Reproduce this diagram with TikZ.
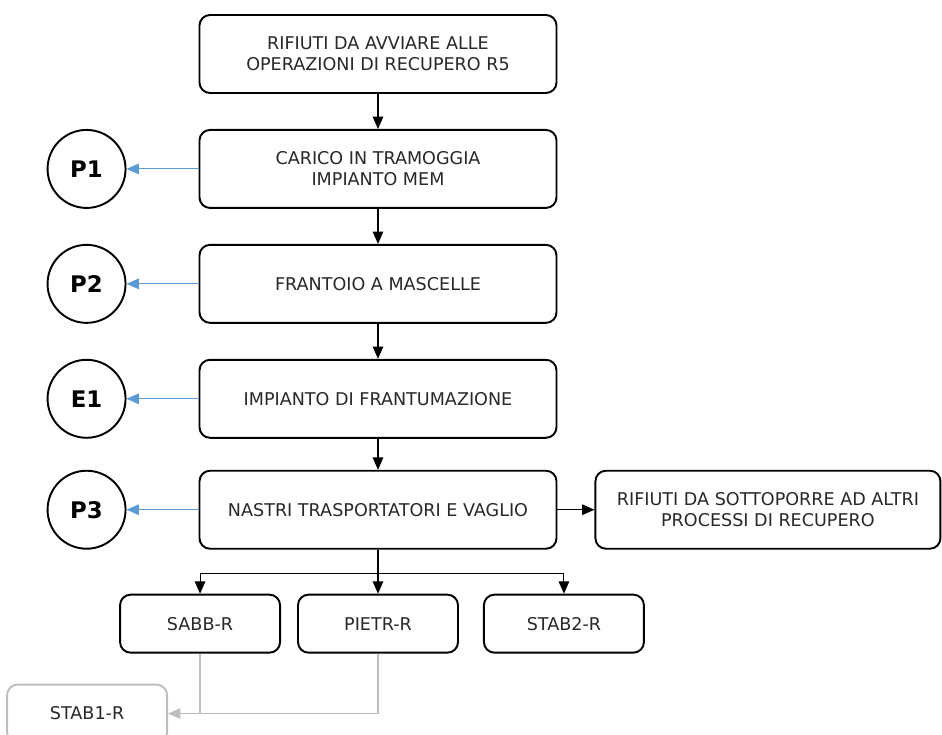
\documentclass[tikz,border=0pt]{standalone}
\usepackage{fontspec}
\setmainfont{DejaVu Sans}
\usepackage{tikz}
\usetikzlibrary{arrows.meta,positioning,calc}
\definecolor{emiss}{HTML}{5B9BD5}
\definecolor{grigioC}{RGB}{190,190,190}
\definecolor{testoC}{RGB}{40,40,40}
\tikzset{
  fase/.style={rectangle, rounded corners=6pt, draw=black, line width=1.1pt, align=center,
               text=testoC, font=\fontsize{10}{12}\selectfont, minimum width=7.14cm, minimum height=1.56cm},
  esito/.style={rectangle, rounded corners=6pt, draw=#1, line width=1.1pt, align=center,
                text=testoC, font=\fontsize{10}{12}\selectfont, minimum width=3.2cm, minimum height=1.16cm},
  punto/.style={circle, draw=black, line width=1.1pt, minimum size=1.56cm, inner sep=0pt,
                font=\fontsize{13}{15}\selectfont\bfseries},
  freccia/.style={-{Triangle[length=7pt,width=6pt]}, line width=0.6pt, draw=black},
  emissione/.style={-{Triangle[length=7pt,width=6pt]}, line width=0.6pt, draw=emiss},
  scarto/.style={-{Triangle[length=7pt,width=6pt]}, line width=0.8pt, draw=grigioC},
}
\begin{document}
\begin{tikzpicture}[node distance=0.7cm]
    \useasboundingbox (-7.56,1.08) rectangle (11.28,-13.62);
    \node[fase] (rifiuti){RIFIUTI DA AVVIARE ALLE\\OPERAZIONI DI RECUPERO R5};
    \node[fase, below=of rifiuti] (carico){CARICO IN TRAMOGGIA\\IMPIANTO MEM};
    \node[fase, below=of carico] (frantoio){FRANTOIO A MASCELLE};
    \node[fase, below=of frantoio] (impianto){IMPIANTO DI FRANTUMAZIONE};
    \node[fase, below=0.62cm of impianto] (vaglio){NASTRI TRASPORTATORI E VAGLIO};
    \node[fase, minimum width=6.9cm, right=0.74cm of vaglio] (altri){RIFIUTI DA SOTTOPORRE AD ALTRI\\PROCESSI DI RECUPERO};
    \node[punto, left=1.44cm of carico] (p1){P1};
    \node[punto, left=1.44cm of frantoio] (p2){P2};
    \node[punto, left=1.44cm of impianto] (e1){E1};
    \node[punto, left=1.44cm of vaglio] (p3){P3};
    \node[esito=black, below=0.88cm of vaglio] (pietr){PIETR-R};
    \node[esito=black, left=0.32cm of pietr] (sabb){SABB-R};
    \node[esito=black, right=0.48cm of pietr] (stab2){STAB2-R};
    \node[esito=grigioC, below=0.6cm of sabb, xshift=-2.26cm] (stab1){STAB1-R};
    \coordinate[below=0.48cm of vaglio.south] (split);
    \draw[freccia](rifiuti)--(carico); \draw[freccia](carico)--(frantoio);
    \draw[freccia](frantoio)--(impianto); \draw[freccia](impianto)--(vaglio);
    \draw[freccia](vaglio)--(altri);
    \draw[emissione](carico)--(p1); \draw[emissione](frantoio)--(p2);
    \draw[emissione](impianto)--(e1); \draw[emissione](vaglio)--(p3);
    \draw[freccia](vaglio)--(pietr);
    \draw[freccia](split)-|(sabb.north); \draw[freccia](split)-|(stab2.north);
    \draw[scarto](pietr.south)|-(stab1.east);
    \draw[scarto, -](sabb.south)--(sabb.south|-stab1.east);
  \end{tikzpicture}
\end{document}
